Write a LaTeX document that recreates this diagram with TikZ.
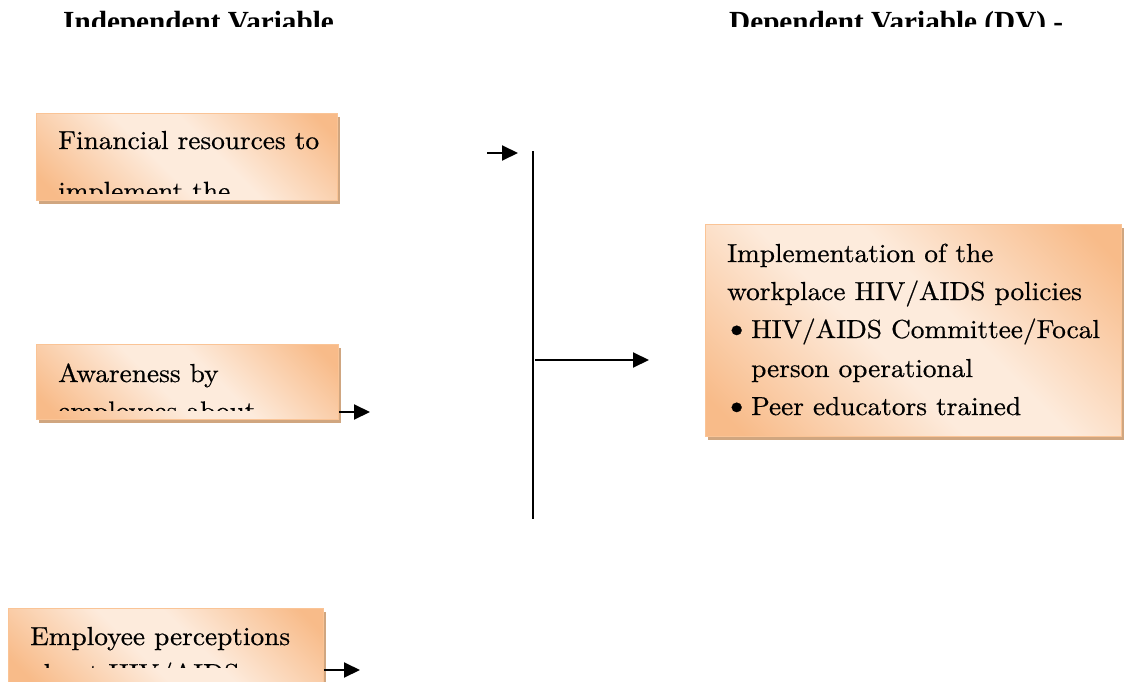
\documentclass[tikz,border=0pt]{standalone}
\usepackage{fontspec}
\usetikzlibrary{arrows.meta,shadows}
\newfontfamily\hdfont{Liberation Serif}
\newfontfamily\boxfont{lmroman10-regular.otf}[FakeStretch=1.05,FakeBold=0.6]
\definecolor{boxorg}{RGB}{248,187,137}
\definecolor{boxlite}{RGB}{253,235,220}
\definecolor{boxedge}{RGB}{250,196,150}
\definecolor{shadowcol}{RGB}{208,166,128}
\pgfdeclareverticalshading{boxshade}{100bp}{color(0bp)=(boxorg); color(19bp)=(boxorg); color(44bp)=(boxlite); color(56bp)=(boxlite); color(81bp)=(boxorg); color(100bp)=(boxorg)}
\tikzset{
  ivbox/.style={draw=boxedge, line width=0.8pt, shading=boxshade, shading angle=-45,
    anchor=north west, inner sep=0pt,
    general shadow={fill=shadowcol, shadow xshift=3pt, shadow yshift=-4pt}},
  btext/.style={anchor=base west, inner sep=0pt, font={\boxfont\fontsize{26}{30}\selectfont}},
  bullet/.style={anchor=base west, inner sep=0pt, font={\boxfont\fontsize{33}{36}\selectfont}},
  htext/.style={anchor=base west, inner sep=0pt, font={\hdfont\bfseries\fontsize{29.2}{34}\selectfont}},
  arr/.style={-{Triangle[length=16pt,width=15pt]}, line width=2pt},
  plainline/.style={line width=2pt}
}
\begin{document}
\begin{tikzpicture}[x=1pt,y=-1pt]
\useasboundingbox (0,0) rectangle (1124,682);
% headers (cut off at the bottom)
\begin{scope}
  \clip (0,0) rectangle (1124,27);
  \node[htext] (hiv) at (63,31.3) {Independent Variable};
  \node[htext] (hdv) at (729,31.3) {Dependent Variable (DV) -};
\end{scope}
% box 1
\node[ivbox, minimum width=301pt, minimum height=87pt] (b1) at (36,113) {};
\begin{scope}
  \clip (36,113) rectangle (337,193);
  \node[btext] (t1a) at (58,149) {Financial resources to};
  \node[btext] (t1b) at (58,199.8) {implement the};
\end{scope}
% box 2
\node[ivbox, minimum width=302pt, minimum height=75pt] (b2) at (36,344) {};
\begin{scope}
  \clip (36,344) rectangle (338,410);
  \node[btext] (t2a) at (58,382) {Awareness by};
  \node[btext] (t2b) at (58,419.5) {employees about};
\end{scope}
% box 3
\node[ivbox, minimum width=315pt, minimum height=74pt] (b3) at (8,608) {};
\begin{scope}
  \clip (8,608) rectangle (323,667);
  \node[btext] (t3a) at (30,645) {Employee perceptions};
  \node[btext] (t3b) at (30,682) {about HIV/AIDS};
\end{scope}
% dependent variable box
\node[ivbox, minimum width=416pt, minimum height=212pt] (dv) at (705,224) {};
\node[btext] (d1) at (727,262) {Implementation of the};
\node[btext] (d2) at (727,300) {workplace HIV/AIDS policies};
\node[bullet] (d3b) at (723,338) {\textbullet};
\node[btext] (d3) at (751,338) {HIV/AIDS Committee/Focal};
\node[btext] (d4) at (751,377) {person operational};
\node[bullet] (d5b) at (723,415) {\textbullet};
\node[btext] (d5) at (751,415) {Peer educators trained};
% connectors
\coordinate (a1s) at (487,153);
\coordinate (a1e) at (518,153);
\coordinate (vt) at (533,151);
\coordinate (vb) at (533,519);
\coordinate (ms) at (535,360);
\coordinate (me) at (649,360);
\coordinate (a2e) at (370,412);
\coordinate (a3e) at (360,670);
\draw[arr] (a1s) -- (a1e);
\draw[plainline] (vt) -- (vb);
\draw[arr] (ms) -- (me);
\draw[arr] (a2e -| b2.east) -- (a2e);
\draw[arr] (a3e -| b3.east) -- (a3e);
\end{tikzpicture}
\end{document}
